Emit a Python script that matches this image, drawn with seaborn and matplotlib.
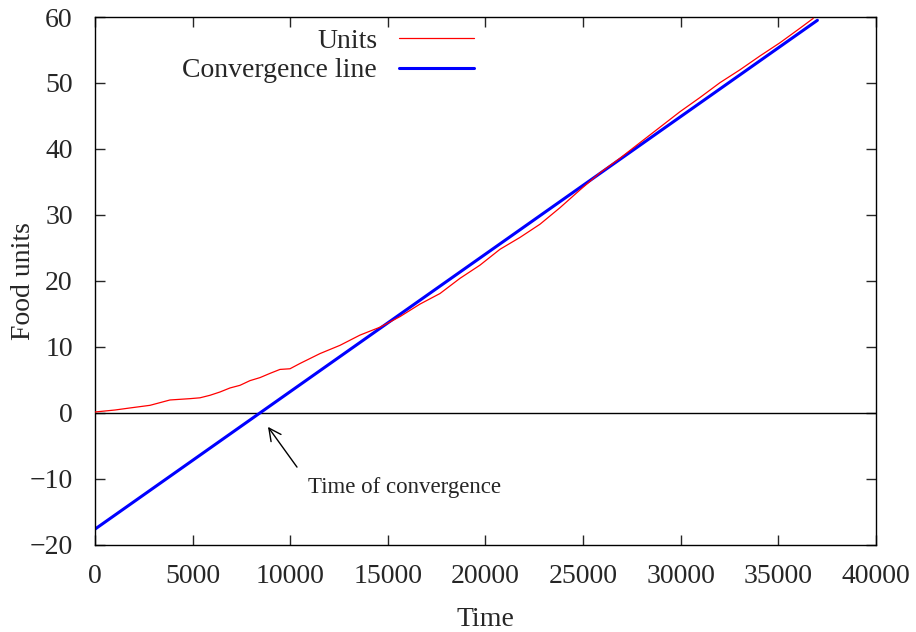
import matplotlib
matplotlib.use("Agg")
import matplotlib.pyplot as plt
import seaborn as sns
import pandas as pd

# Red "Units" curve
unit_time = [0, 1024, 1790, 2817, 3841, 4866, 5378, 5890, 6402, 6914, 7426, 7938,
             8451, 8963, 9475, 9987, 10499, 11524, 12548, 13572, 14597, 15621,
             16645, 17670, 18694, 19718, 20742, 21767, 22791, 23815, 24840,
             25864, 26888, 27913, 28937, 29962, 30986, 32010, 33034, 34059,
             35083, 36107, 36790]
unit_food = [0.15, 0.45, 0.76, 1.16, 1.97, 2.17, 2.3, 2.68, 3.18, 3.79, 4.19, 4.9,
             5.36, 6.0, 6.6, 6.7, 7.5, 9.0, 10.25, 11.8, 13.0, 14.6,
             16.5, 18.1, 20.4, 22.4, 24.8, 26.6, 28.6, 31.1, 33.8,
             36.4, 38.6, 40.96, 43.3, 45.65, 47.8, 50.05, 52.0, 54.1,
             56.1, 58.3, 59.8]

# Blue convergence line endpoints
conv_time = [0, 37000]
conv_food = [-17.6, 59.5]

units = pd.DataFrame({"Time": unit_time, "Food": unit_food})
conv = pd.DataFrame({"Time": conv_time, "Food": conv_food})

sns.set_style("ticks")
plt.rcParams["font.family"] = ["Liberation Serif", "DejaVu Serif"]

fig, ax = plt.subplots(figsize=(9.16, 6.32), dpi=100)
fig.subplots_adjust(left=0.1037, right=0.9563, top=0.9731, bottom=0.1377)

ax.axhline(0, color="black", lw=1.0, zorder=1)
sns.lineplot(data=units, x="Time", y="Food", ax=ax, color="#ff0000",
             lw=0.9, label="Units", zorder=3)
sns.lineplot(data=conv, x="Time", y="Food", ax=ax, color="#0000ff",
             lw=2.2, label="Convergence line", zorder=2)

ax.set_xlim(0, 40000)
ax.set_ylim(-20, 60)
ax.set_xticks(range(0, 40001, 5000))
ax.set_yticks(range(-20, 61, 10))
ax.tick_params(direction="in", length=7, width=1, labelsize=20,
               top=True, right=True)
ax.tick_params(axis="x", pad=14)
ax.tick_params(axis="y", pad=16)
for s in ax.spines.values():
    s.set_linewidth(1.0)
    s.set_color("black")

ax.set_xlabel("Time", fontsize=20, labelpad=13)
ax.set_ylabel("Food units", fontsize=20, labelpad=-5)

ax.annotate("", xy=(8860, -2.1), xytext=(10346, -8.2),
            arrowprops=dict(arrowstyle="->", color="black", lw=1.0,
                            shrinkA=0, shrinkB=0, mutation_scale=22))
ax.text(10900, -11.3, "Time of convergence", fontsize=16.5, ha="left", va="center")

leg = ax.legend(loc="upper right", bbox_to_anchor=(0.500, 1.0), frameon=False,
                markerfirst=False, fontsize=20, handlelength=2.7,
                labelspacing=0.16, borderaxespad=0.0, handletextpad=0.8)

fig.savefig("out.png", dpi=100)
